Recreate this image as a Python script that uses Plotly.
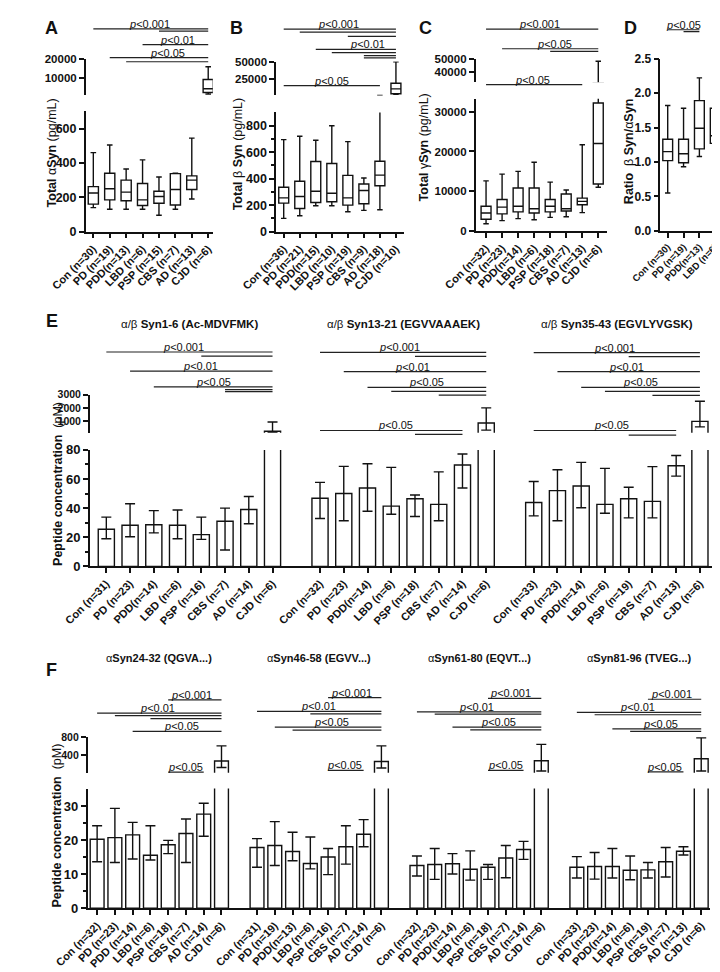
import plotly.graph_objects as go

W, H = 720, 972
FONT = "Arial, Liberation Sans, Helvetica, sans-serif"
BLACK = "#111111"

def px(x):
    return x / W

def py(y):
    return 1 - y / H

# ---------------- DATA ----------------
groups8 = ["Con", "PD", "PDD", "LBD", "PSP", "CBS", "AD", "CJD"]

# Panel A: total alpha-Syn (pg/mL), box stats
A_labels = ["Con (n=30)", "PD (n=19)", "PDD(n=13)", "LBD (n=6)", "PSP (n=15)", "CBS (n=7)", "AD (n=13)", "CJD (n=6)"]
A_low = [140, 130, 130, 130, 95, 130, 190, 1300]
A_q1 = [160, 185, 180, 152, 165, 155, 245, 2200]
A_med = [225, 250, 230, 185, 205, 245, 300, 4200]
A_q3 = [262, 340, 300, 280, 235, 338, 325, 9200]
A_high = [460, 505, 365, 418, 318, 340, 545, 16000]

# Panel B: total beta-Syn
B_labels = ["Con (n=36)", "PD (n=21)", "PDD(n=15)", "LBD (n=10)", "PSP (n=19)", "CBS (n=9)", "AD (n=18)", "CJD (n=10)"]
B_low = [100, 120, 195, 195, 150, 160, 165, 3700]
B_q1 = [215, 175, 220, 225, 200, 210, 346, 4600]
B_med = [255, 265, 305, 290, 255, 310, 427, 11500]
B_q3 = [335, 380, 530, 515, 425, 360, 531, 19400]
B_high = [695, 720, 690, 800, 680, 405, 2300, 49500]

# Panel C: total gamma-Syn
C_labels = ["Con (n=32)", "PD (n=23)", "PDD(n=14)", "LBD (n=6)", "PSP (n=18)", "CBS (n=7)", "AD (n=13)", "CJD (n=6)"]
C_low = [1800, 2600, 3100, 2800, 3400, 3550, 4600, 11000]
C_q1 = [2950, 4300, 4800, 4500, 4800, 5000, 6600, 11800]
C_med = [4500, 6000, 6200, 5600, 6200, 5600, 7440, 22000]
C_q3 = [6200, 7900, 10800, 10800, 7900, 9300, 8260, 32200]
C_high = [12600, 14300, 15000, 17300, 12300, 10300, 21700, 48100]

# Panel D: ratio beta/alpha
D_labels = ["Con (n=30)", "PD (n=19)", "PDD(n=13)", "LBD (n=6)"]
D_low = [0.55, 0.93, 1.08, 1.10]
D_q1 = [1.02, 0.99, 1.19, 1.27]
D_med = [1.15, 1.12, 1.49, 1.38]
D_q3 = [1.33, 1.33, 1.89, 1.78]
D_high = [1.82, 1.78, 2.22, 1.91]

# Panel E: alpha/beta peptides (pM) mean, error-bar top, error-bar bottom
E_titles = ["α/β <b>Syn1-6 (Ac-MDVFMK)</b>", "α/β <b>Syn13-21 (EGVVAAAEK)</b>", "α/β <b>Syn35-43 (EGVLYVGSK)</b>"]
E1_labels = ["Con (n=31)", "PD (n=23)", "PDD(n=14)", "LBD (n=6)", "PSP (n=16)", "CBS (n=7)", "AD (n=14)", "CJD (n=6)"]
E1_mean = [25.5, 28.2, 28.6, 28.2, 21.8, 31.0, 39.0, 218]
E1_hi = [33.8, 43.0, 38.3, 38.7, 33.8, 40.0, 48.0, 925]
E1_lo = [19.0, 20.3, 23.0, 19.0, 18.5, 11.2, 29.3, 120]
E2_labels = ["Con (n=32)", "PD (n=23)", "PDD(n=14)", "LBD (n=6)", "PSP (n=18)", "CBS (n=7)", "AD (n=14)", "CJD (n=6)"]
E2_mean = [46.8, 50.0, 53.8, 41.4, 46.4, 42.6, 69.6, 850]
E2_hi = [57.7, 68.7, 70.5, 68.0, 49.0, 64.9, 77.2, 2000]
E2_lo = [32.9, 31.3, 37.8, 35.8, 34.2, 31.3, 53.8, 300]
E3_labels = ["Con (n=33)", "PD (n=23)", "PDD(n=14)", "LBD (n=6)", "PSP (n=19)", "CBS (n=7)", "AD (n=13)", "CJD (n=6)"]
E3_mean = [43.9, 52.0, 55.2, 42.6, 46.4, 44.6, 69.1, 970]
E3_hi = [58.3, 66.4, 71.4, 67.3, 54.3, 68.5, 76.1, 2500]
E3_lo = [34.7, 31.3, 40.3, 36.5, 33.3, 33.3, 62.0, 550]

# Panel F: alpha peptides (pM)
F_titles = ["α<b>Syn24-32 (QGVA...)</b>", "α<b>Syn46-58 (EGVV...)</b>", "α<b>Syn61-80 (EQVT...)</b>", "α<b>Syn81-96 (TVEG...)</b>"]
F1_labels = ["Con (n=32)", "PD (n=23)", "PDD (n=14)", "LBD (n=6)", "PSP (n=18)", "CBS (n=7)", "AD (n=14)", "CJD (n=6)"]
F1_mean = [20.3, 20.8, 21.6, 15.6, 18.7, 22.0, 27.7, 278]
F1_hi = [24.3, 29.4, 25.3, 24.3, 20.0, 26.3, 30.9, 607]
F1_lo = [13.7, 13.5, 14.5, 14.2, 16.1, 13.5, 21.2, 137]
F2_labels = ["Con (n=31)", "PD (n=19)", "PDD(n=13)", "LBD (n=6)", "PSP (n=16)", "CBS (n=7)", "AD (n=14)", "CJD (n=6)"]
F2_mean = [17.9, 18.5, 16.7, 13.2, 15.1, 18.1, 21.8, 267]
F2_hi = [20.5, 25.5, 22.4, 21.0, 17.6, 24.3, 26.1, 607]
F2_lo = [12.1, 12.6, 14.0, 11.6, 9.9, 13.0, 18.1, 126]
F3_labels = ["Con (n=32)", "PD (n=23)", "PDD(n=14)", "LBD (n=6)", "PSP (n=18)", "CBS (n=7)", "AD (n=14)", "CJD (n=6)"]
F3_mean = [12.6, 12.9, 13.1, 11.5, 12.1, 14.8, 17.3, 283]
F3_hi = [15.4, 17.6, 16.1, 16.9, 12.9, 18.5, 19.7, 639]
F3_lo = [9.5, 8.5, 10.1, 8.3, 8.5, 9.0, 14.4, 60]
F4_labels = ["Con (n=33)", "PD (n=23)", "PDD(n=14)", "LBD (n=6)", "PSP (n=19)", "CBS (n=7)", "AD (n=13)", "CJD (n=6)"]
F4_mean = [12.1, 12.3, 12.3, 11.2, 11.3, 13.7, 16.8, 325]
F4_hi = [15.2, 16.4, 17.6, 15.4, 13.5, 17.9, 18.1, 780]
F4_lo = [8.9, 8.6, 8.9, 8.4, 8.9, 9.2, 15.7, 60]

# Significance comparisons: (from group, to group, level), labels (center, level, text)
A_sig = [(0, 7, 14), (4, 7, 16.3), (3, 7, 30), (1, 7, 43.3), (2, 7, 47.5)]
A_sig_txt = [(3.4, 14, "0.001"), (5.1, 30, "0.01"), (4.5, 43.3, "0.05")]
B_sig = [(0, 7, 14.3), (1, 7, 17.3), (4, 7, 21.7), (2, 7, 35), (3, 7, 38.3), (5, 7, 41.3), (5, 7, 43.5), (0, 6, 71.7)]
B_sig_txt = [(3.4, 14.3, "0.001"), (5.2, 35, "0.01"), (2.95, 71.7, "0.05")]
C_sig = [(0, 7, 14.3), (1, 7, 34.3), (4, 7, 37), (0, 6, 70.7)]
C_sig_txt = [(3.35, 14.3, "0.001"), (4.3, 34.3, "0.05"), (2.9, 70.7, "0.05")]
D_sig = [(0, 2, 15), (1, 2, 16.8)]
D_sig_txt = [(1.0, 15, "0.05")]
E_sig = [
    [(0, 7, 342.3), (4, 7, 346.5), (1, 7, 361.7), (2, 7, 377.7), (5, 7, 380.5), (5, 7, 382.5)],
    [(0, 7, 342.7), (4, 7, 346.7), (1, 7, 362.3), (2, 7, 378.3), (3, 7, 382.3), (5, 7, 386), (0, 6, 422), (4, 6, 426)],
    [(0, 7, 343), (4, 7, 347), (1, 7, 362.3), (2, 7, 378.3), (3, 7, 382.3), (5, 7, 386.3), (0, 6, 422), (4, 6, 426.7)],
]
E_sig_txt = [
    [(3.27, 342.3, "0.001"), (3.97, 361.7, "0.01"), (4.5, 377.7, "0.05")],
    [(3.35, 342.7, "0.001"), (3.89, 362.3, "0.01"), (4.49, 378.3, "0.05"), (3.2, 422, "0.05")],
    [(3.4, 343, "0.001"), (3.9, 362.3, "0.01"), (4.5, 378.3, "0.05"), (3.28, 422, "0.05")],
]
F_sig = [
    [(4, 7, 695.7), (0, 7, 709), (1, 7, 711.7), (3, 7, 714.7), (2, 7, 727.7), (4, 6, 769)],
    [(4, 7, 693.3), (0, 7, 707.3), (3, 7, 709.8), (1, 7, 723.3), (2, 7, 726.3), (4, 6, 767.3)],
    [(4, 7, 694), (0, 7, 707.7), (1, 7, 710), (2, 7, 723.3), (3, 7, 726), (4, 6, 767.3)],
    [(4, 7, 695), (0, 7, 708.3), (1, 7, 710.7), (2, 7, 725), (3, 7, 727.7), (4, 6, 768.7)],
]
F_sig_txt = [
    [(5.3, 695.7, "0.001"), (3.4, 709, "0.01"), (4.75, 727.7, "0.05"), (5.0, 769, "0.05")],
    [(5.3, 693.3, "0.001"), (3.47, 707.3, "0.01"), (4.2, 723.3, "0.05"), (4.9, 767.3, "0.05")],
    [(5.26, 694, "0.001"), (3.37, 707.7, "0.01"), (4.6, 723.3, "0.05"), (5.0, 767.3, "0.05")],
    [(5.3, 695, "0.001"), (3.43, 708.3, "0.01"), (4.7, 725, "0.05"), (4.95, 768.7, "0.05")],
]

# ---------------- FIGURE ----------------
fig = go.Figure()
layout = {}
shapes = []
annots = []


def axkey(prefix, n):
    return prefix + ("axis" if n == 1 else "axis%d" % n)


def ref(prefix, n):
    return prefix if n == 1 else "%s%d" % (prefix, n)


def add_xaxis(n, yanchor, dom, p0, sp, tickvals, ticktext, size=11):
    rng = [(dom[0] - p0) / sp, (dom[1] - p0) / sp]
    layout[axkey("x", n)] = dict(
        domain=[px(dom[0]), px(dom[1])], range=rng, anchor=ref("y", yanchor),
        tickmode="array", tickvals=tickvals, ticktext=ticktext, tickangle=-45,
        ticklabeloverflow="allow",
        showline=True, linecolor=BLACK, linewidth=1.5, ticks="outside", ticklen=5,
        tickwidth=1.5, tickcolor=BLACK, showgrid=False, zeroline=False,
        tickfont=dict(family=FONT, size=size, color=BLACK, weight="bold"), fixedrange=True)


def add_yaxis(n, xanchor, top, bottom, rng, tickvals, ticktext=None, size=12, minor=None):
    d = dict(domain=[py(bottom), py(top)], range=rng, anchor=ref("x", xanchor),
             tickmode="array", tickvals=tickvals,
             ticktext=ticktext if ticktext is not None else [str(v) for v in tickvals],
             showline=True, linecolor=BLACK, linewidth=1.5, ticks="outside", ticklen=5,
             tickwidth=1.5, tickcolor=BLACK, showgrid=False, zeroline=False,
             tickfont=dict(family=FONT, size=size, color=BLACK, weight="bold"), fixedrange=True)
    if minor:
        d["minor"] = dict(tickvals=minor, ticks="outside", ticklen=3, tickwidth=1.5, tickcolor=BLACK)
    layout[axkey("y", n)] = d
    return rng


def pick(keep, *arrs):
    return [[a for a, k in zip(arr, keep) if k] for arr in arrs]


def add_box(xn, yn, rng, pos, lo, q1, med, q3, hi, width=0.62):
    # only boxes that reach into this axis segment are drawn there
    keep = [(h > rng[0]) and (l < rng[1]) for l, h in zip(lo, hi)]
    p, l_, a, m, b, h_ = pick(keep, pos, lo, q1, med, q3, hi)
    if not p:
        return
    fig.add_trace(go.Box(
        x=p, lowerfence=l_, q1=a, median=m, q3=b, upperfence=h_,
        xaxis=ref("x", xn), yaxis=ref("y", yn), width=width, whiskerwidth=0.55,
        line=dict(color=BLACK, width=1.4), fillcolor="white", boxpoints=False,
        showlegend=False, hoverinfo="skip"))


def add_bars(xn, yn, threshold, pos, mean, hi, lo, width):
    # only bars whose top lies above the threshold are drawn on this axis segment
    keep = [v > threshold for v in mean]
    p, m, h_, l_ = pick(keep, pos, mean, hi, lo)
    fig.add_trace(go.Bar(
        x=p, y=m, xaxis=ref("x", xn), yaxis=ref("y", yn), width=width,
        marker=dict(color="white", line=dict(color=BLACK, width=1.4)),
        error_y=dict(type="data", symmetric=False,
                     array=[h - v for h, v in zip(h_, m)],
                     arrayminus=[v - l for v, l in zip(m, l_)],
                     color=BLACK, thickness=1.4, width=5),
        showlegend=False, hoverinfo="skip"))


def add_sig(xn, lines, labels, offset=0):
    for a, b, yl in lines:
        shapes.append(dict(type="line", xref=ref("x", xn), yref="paper",
                           x0=a + offset, x1=b + offset, y0=py(yl), y1=py(yl),
                           line=dict(color="#222222", width=1.2)))
    for xc, yl, t in labels:
        annots.append(dict(text="<i>p</i>&lt;" + t, xref=ref("x", xn), yref="paper",
                           x=xc + offset, y=py(yl), yanchor="bottom", xanchor="center",
                           yshift=-3, showarrow=False,
                           font=dict(family=FONT, size=11, color=BLACK)))


def note(text, x, y, size=12, angle=0):
    annots.append(dict(text=text, xref="paper", yref="paper", x=px(x), y=py(y),
                       xanchor="center", yanchor="middle", showarrow=False, textangle=angle,
                       font=dict(family=FONT, size=size, color=BLACK)))


pos8 = list(range(8))

# ---- A ----
add_xaxis(1, 1, (44, 178), 52, 17.3, pos8, A_labels)
rA1 = add_yaxis(1, 1, 98, 220, [0, 700], [0, 200, 400, 600], size=12.5)
rA2 = add_yaxis(2, 1, 45, 81, [1000, 20000], [10000, 20000], size=11.5)
add_box(1, 1, rA1, pos8, A_low, A_q1, A_med, A_q3, A_high)
add_box(1, 2, rA2, pos8, A_low, A_q1, A_med, A_q3, A_high)
add_sig(1, A_sig, A_sig_txt)

# ---- B ----
add_xaxis(2, 3, (244.7, 380), 252.7, 16.9, pos8, B_labels)
rB1 = add_yaxis(3, 2, 99, 220, [0, 900], [0, 200, 400, 600, 800], size=12.5, minor=[100, 300, 500, 700])
rB2 = add_yaxis(4, 2, 47.3, 81.7, [2200, 50000], [25000, 50000], size=11.5)
add_box(2, 3, rB1, pos8, B_low, B_q1, B_med, B_q3, B_high)
add_box(2, 4, rB2, pos8, B_low, B_q1, B_med, B_q3, B_high)
add_sig(2, B_sig, B_sig_txt)

# ---- C ----
add_xaxis(3, 5, (455, 593), 466, 16.9, pos8, C_labels)
rC1 = add_yaxis(5, 3, 85, 219.3, [0, 33300], [0, 10000, 20000, 30000], size=11.5)
rC2 = add_yaxis(6, 3, 44.3, 68.3, [32900, 50000], [40000, 50000], size=11.5)
add_box(3, 5, rC1, pos8, C_low, C_q1, C_med, C_q3, C_high)
add_box(3, 6, rC2, pos8, C_low, C_q1, C_med, C_q3, C_high)
add_sig(3, C_sig, C_sig_txt)

# ---- D ----
pos4 = list(range(4))
add_xaxis(4, 7, (649.7, 714), 657.5, 16.7, pos4, D_labels, size=9.5)
rD = add_yaxis(7, 4, 44.3, 219.3, [0, 2.5], [0, 0.5, 1.0, 1.5, 2.0, 2.5],
               ["0.0", "0.5", "1.0", "1.5", "2.0", "2.5"], size=12)
add_box(4, 7, rD, pos4, D_low, D_q1, D_med, D_q3, D_high)
add_sig(4, D_sig, D_sig_txt)

# ---- E ----
rE1 = add_yaxis(8, 5, 441.7, 560, [0, 80], [0, 20, 40, 60, 80], size=13, minor=[10, 30, 50, 70])
rE2 = add_yaxis(9, 5, 385.7, 424.3, [100, 3000], [1000, 2000, 3000], size=10.5)
E_sets = [(E1_labels, E1_mean, E1_hi, E1_lo), (E2_labels, E2_mean, E2_hi, E2_lo),
          (E3_labels, E3_mean, E3_hi, E3_lo)]
E_tv, E_tt = [], []
for g, (lab, m, hi, lo) in enumerate(E_sets):
    pos = [g * 9 + i for i in range(8)]
    E_tv += pos
    E_tt += lab
    add_bars(5, 8, -1, pos, m, hi, lo, 0.68)
    add_bars(5, 9, rE1[1], pos, m, hi, lo, 0.68)
    add_sig(5, E_sig[g], E_sig_txt[g], offset=g * 9)
    annots.append(dict(text=E_titles[g], xref="x5", yref="paper", x=g * 9 + 3.5, y=py(314),
                       xanchor="center", yanchor="middle", showarrow=False,
                       font=dict(family=FONT, size=11.5, color=BLACK)))
add_xaxis(5, 8, (48.3, 716), 65.7, 25.03, E_tv, E_tt, size=11)

# ---- F ----
rF1 = add_yaxis(10, 6, 785.7, 907.3, [0, 35.23], [0, 10, 20, 30], size=13, minor=[5, 15, 25])
rF2 = add_yaxis(11, 6, 733.3, 769.7, [20, 800], [400, 800], size=10.5)
F_sets = [(F1_labels, F1_mean, F1_hi, F1_lo), (F2_labels, F2_mean, F2_hi, F2_lo),
          (F3_labels, F3_mean, F3_hi, F3_lo), (F4_labels, F4_mean, F4_hi, F4_lo)]
F_tv, F_tt = [], []
for g, (lab, m, hi, lo) in enumerate(F_sets):
    pos = [g * 9 + i for i in range(8)]
    F_tv += pos
    F_tt += lab
    add_bars(6, 10, -1, pos, m, hi, lo, 0.78)
    add_bars(6, 11, rF1[1], pos, m, hi, lo, 0.78)
    add_sig(6, F_sig[g], F_sig_txt[g], offset=g * 9)
    annots.append(dict(text=F_titles[g], xref="x6", yref="paper", x=g * 9 + 3.5, y=py(653),
                       xanchor="center", yanchor="middle", showarrow=False,
                       font=dict(family=FONT, size=11, color=BLACK)))
add_xaxis(6, 10, (46, 702), 56, 18.73, F_tv, F_tt, size=11)

# ---- Axis titles and panel letters ----
note("<b>Total </b>α<b>Syn</b> (pg/mL)", 8, 140, 12.5, -90)
note("<b>Total </b>β<b> Syn</b> (pg/mL)", 204, 141, 12.5, -90)
note("<b>Total </b>γ<b>Syn</b> (pg/mL)", 400, 134, 12.5, -90)
note("<b>Ratio  </b>β<b> Syn/</b>α<b>Syn</b>", 617, 139, 12.5, -90)
note("<b>Peptide concentration</b>  (pM)", 14, 476, 12.5, -90)
note("<b>Peptide concentration</b>  (pM)", 14, 823, 12.5, -90)
for letter, x, y in [("A", 8, 13), ("B", 203, 13), ("C", 402, 13), ("D", 618, 13),
                     ("E", 8, 311), ("F", 8, 665)]:
    note("<b>%s</b>" % letter, x, y, 18)

fig.update_layout(
    width=W, height=H, margin=dict(l=0, r=0, t=0, b=0),
    paper_bgcolor="white", plot_bgcolor="white", showlegend=False,
    shapes=shapes, annotations=annots,
    font=dict(family=FONT, color=BLACK), **layout)

fig.write_html("out.html")
